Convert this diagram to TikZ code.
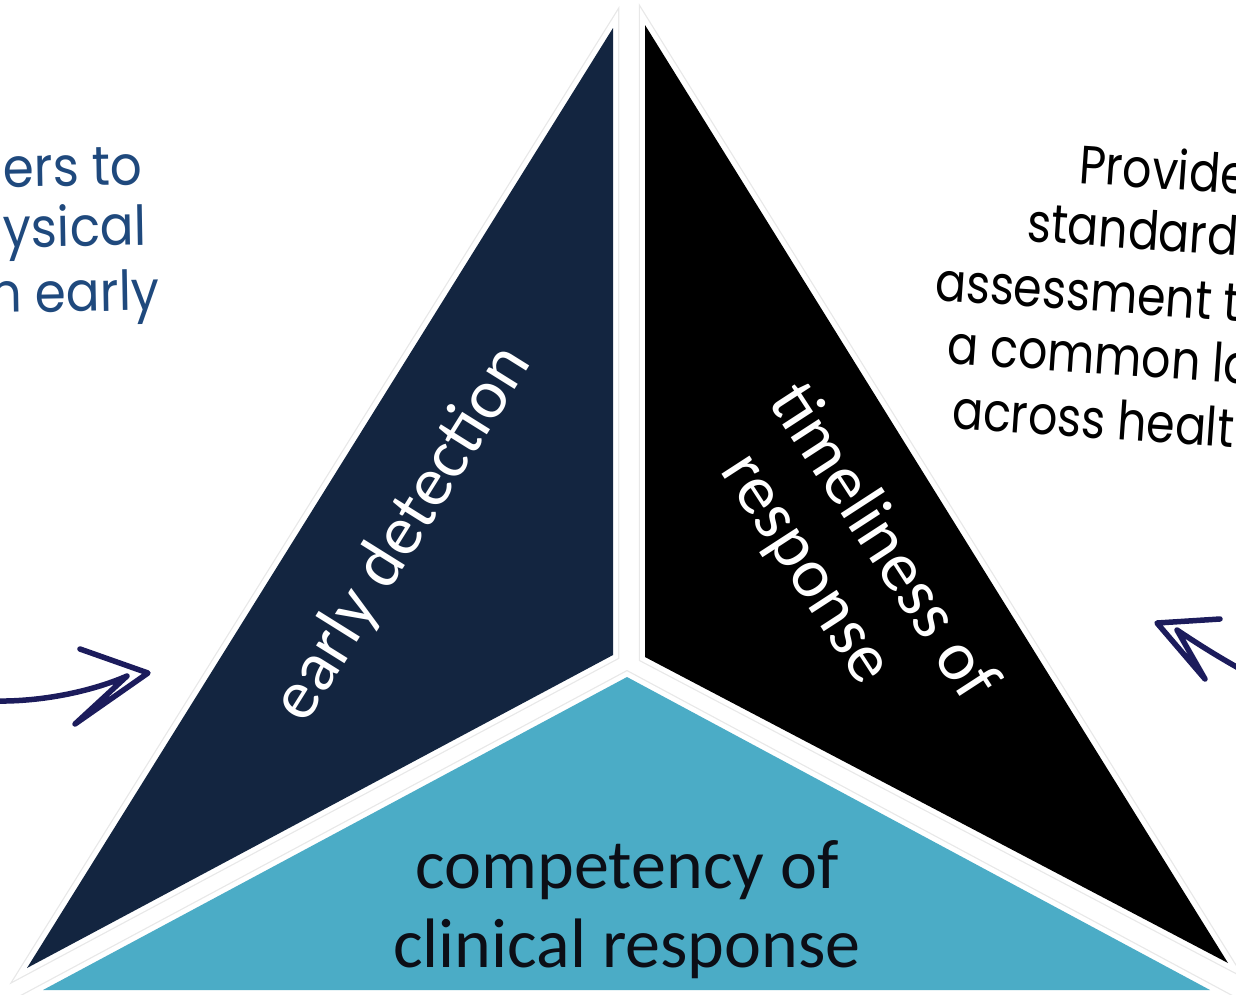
\documentclass[tikz,border=0pt]{standalone}
\usepackage{fontspec}
\setmainfont{Carlito}
\newfontfamily\handfont[FakeStretch=0.85]{Poppins}
\newfontfamily\handfontwide[FakeStretch=0.91]{Poppins}
\definecolor{navyseg}{RGB}{19,37,64}
\definecolor{tealseg}{RGB}{75,172,198}
\definecolor{noteblue}{RGB}{31,73,125}
\definecolor{arrowink}{RGB}{28,28,92}
\definecolor{labelink}{RGB}{12,14,22}
\begin{document}
\begin{tikzpicture}[x=1pt,y=-1pt,
  shadowrim/.style={draw=black!9, line width=12.5pt, line join=miter},
  whiterim/.style={draw=white, line width=10pt, line join=miter},
  seglabel/.style={font=\fontsize{70}{79}\selectfont, inner sep=0pt},
  handnote/.style={font=\handfont\fontsize{54}{62}\selectfont, inner sep=0pt},
  handnoteleft/.style={font=\handfontwide\fontsize{55}{62}\selectfont, inner sep=0pt},
  sketcharrow/.style={draw=arrowink, line width=5.5pt, line cap=round, line join=round}
]
\useasboundingbox (0,0) rectangle (1236,994);
\clip (0,0) rectangle (1236,994);

% corner points of the three segments
\coordinate (nT) at (613,28);
\coordinate (nL) at (27,968);
\coordinate (nC) at (613,655);
\coordinate (kT) at (645,25);
\coordinate (kR) at (1228,963);
\coordinate (kC) at (645,657);
\coordinate (bT) at (627,677);
\coordinate (bL) at (43,990);
\coordinate (bR) at (1210,990);

% soft outlines, then white rims, then the coloured faces on top
\foreach \p in {{(nT) -- (nL) -- (nC) -- cycle},
                {(kT) -- (kC) -- (kR) -- cycle},
                {(bT) -- (bL) -- (bR) -- cycle}}
  \path[shadowrim] \p;
\foreach \p in {{(nT) -- (nL) -- (nC) -- cycle},
                {(kT) -- (kC) -- (kR) -- cycle},
                {(bT) -- (bL) -- (bR) -- cycle}}
  \path[whiterim] \p;
\fill[navyseg] (nT) -- (nL) -- (nC) -- cycle;
\fill[black] (kT) -- (kC) -- (kR) -- cycle;
\fill[tealseg] (bT) -- (bL) -- (bR) -- cycle;

% segment labels
\node[seglabel, text=white, rotate=58, anchor=base] (early) at (419,544) {early detection};
\node[seglabel, text=white, rotate=-57, anchor=base] (timely) at (866,553) {timeliness of};
\node[seglabel, text=white, rotate=-57, anchor=base] (resp) at (790,579) {response};
\node[seglabel, text=labelink, anchor=base] (comp) at (627,888) {competency of};
\node[seglabel, text=labelink, anchor=base] (clin) at (627,967) {clinical response};

% side notes
\node[handnoteleft, text=noteblue, rotate=1, anchor=base east] (nl1) at (143,185) {ers to};
\node[handnoteleft, text=noteblue, rotate=1, anchor=base east] (nl2) at (147,245) {hysical};
\node[handnoteleft, text=noteblue, rotate=1, anchor=base east] (nl3) at (160,310) {n early};

\node[handnote, text=black, rotate=-4, anchor=base west] (nr1) at (1078,183) {Provide};
\node[handnote, text=black, rotate=-4, anchor=base west] (nr2) at (1026,241) {standard};
\node[handnote, text=black, rotate=-4, anchor=base west] (nr3) at (934,300) {assessment t};
\node[handnote, text=black, rotate=-4, anchor=base west] (nr4) at (946,363) {a common la};
\node[handnote, text=black, rotate=-4, anchor=base west] (nr5) at (951,428) {across healt};

% hand-drawn arrows
\coordinate (la0) at (-6,701);
\coordinate (la1) at (127,676);
\coordinate (la2) at (75,724);
\coordinate (laTip) at (148,673);
\coordinate (la3) at (80,649);
\path[sketcharrow] (la0) .. controls (45,702) and (95,690) .. (la1) -- (la2) -- (laTip) -- (la3);

\coordinate (ra0) at (1242,670);
\coordinate (ra1) at (1177,630);
\coordinate (ra2) at (1205,679);
\coordinate (raTip) at (1157,623);
\coordinate (ra3) at (1220,619);
\path[sketcharrow] (ra0) .. controls (1215,655) and (1195,642) .. (ra1) -- (ra2) -- (raTip) -- (ra3);
\end{tikzpicture}
\end{document}
